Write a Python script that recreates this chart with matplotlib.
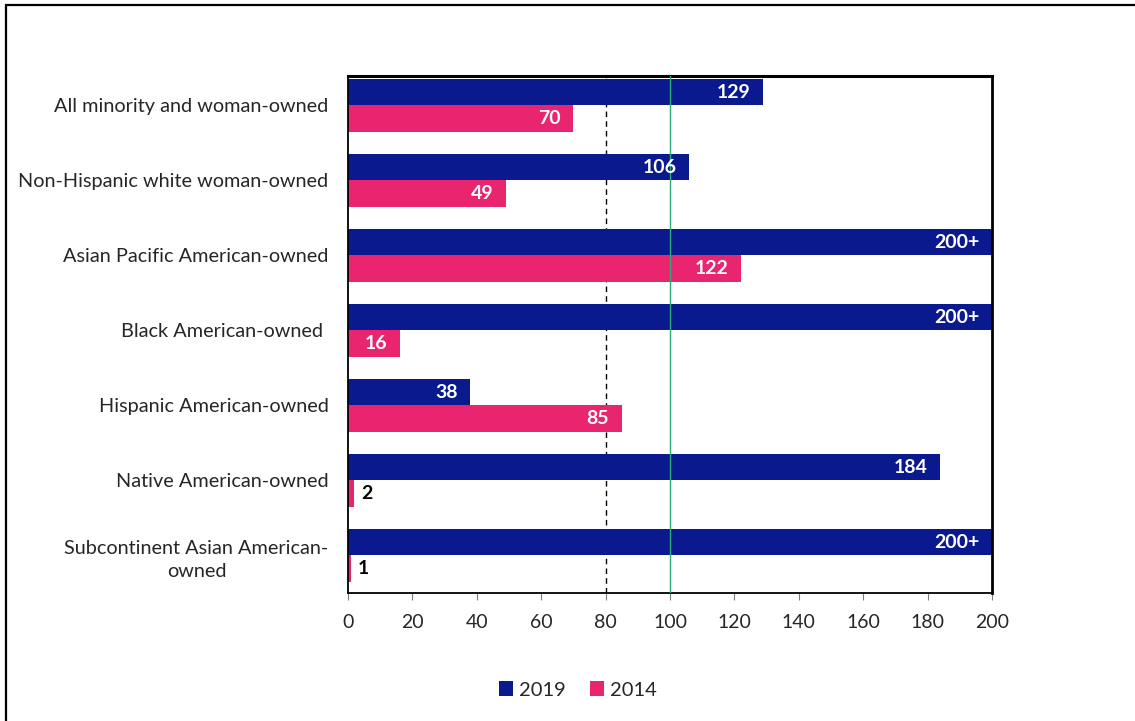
import matplotlib
matplotlib.use("Agg")
import matplotlib.pyplot as plt
from matplotlib.patches import Rectangle
import numpy as np

plt.rcParams['font.family'] = ['Lato', 'DejaVu Sans']

categories = [
    "All minority and woman-owned",
    "Non-Hispanic white woman-owned",
    "Asian Pacific American-owned",
    "Black American-owned ",
    "Hispanic American-owned",
    "Native American-owned",
    "Subcontinent Asian American-\nowned",
]
values_2019 = [129, 106, 200, 200, 38, 184, 200]
values_2014 = [70, 49, 122, 16, 85, 2, 1]
labels_2019 = ["129", "106", "200+", "200+", "38", "184", "200+"]
labels_2014 = ["70", "49", "122", "16", "85", "2", "1"]
x_ticks = [0, 20, 40, 60, 80, 100, 120, 140, 160, 180, 200]

navy = "#0A1A8E"
pink = "#E8256E"

fig = plt.figure(figsize=(11.35, 7.21), dpi=100)
ax = fig.add_axes([348 / 1135, 1 - 593 / 721, (992 - 348) / 1135, (593 - 76) / 721])

# outer chart border
fig.patches.append(Rectangle((6 / 1135, -0.05), 1.2, 1 - 5 / 721 + 0.05,
                             transform=fig.transFigure, fill=False,
                             edgecolor="black", linewidth=1.6, zorder=0))

y = np.arange(len(categories))
h = 0.35
ax.axvline(80, color="black", linestyle=(0, (4, 3)), linewidth=1.0, zorder=1)
b19 = ax.barh(y - h / 2, values_2019, height=h, color=navy, label="2019", zorder=2)
b14 = ax.barh(y + h / 2, values_2014, height=h, color=pink, label="2014", zorder=2)
ax.axvline(100, color="#2EAA78", linewidth=1.0, zorder=3)

for bars, labs in ((b19, labels_2019), (b14, labels_2014)):
    for bar, lab in zip(bars, labs):
        w = bar.get_width()
        yc = bar.get_y() + bar.get_height() / 2
        if w >= 10:
            ax.annotate(lab, (w, yc), xytext=(-9, 0), textcoords="offset points",
                        ha="right", va="center", color="white",
                        fontsize=14, fontweight="bold", zorder=4)
        else:
            ax.annotate(lab, (w, yc), xytext=(5, 0), textcoords="offset points",
                        ha="left", va="center", color="black",
                        fontsize=14, fontweight="bold", zorder=4)

ax.set_xlim(0, 200)
ax.set_ylim(6.5, -0.39)
ax.set_xticks(x_ticks)
ax.set_xticklabels([str(t) for t in x_ticks], fontsize=14, color="#262626")
ax.set_yticks(y)
ax.set_yticklabels(categories, fontsize=14.3, color="#262626")
for t in ax.get_yticklabels():
    t.set_multialignment("center")
    t.set_linespacing(1.45)
ax.tick_params(axis="y", length=0, pad=14)
ax.tick_params(axis="x", length=5, color="#7f7f7f", pad=10)

for s in ("left", "bottom"):
    ax.spines[s].set_linewidth(1.3)
ax.spines["top"].set_linewidth(2.2)
ax.spines["right"].set_linewidth(2.0)
for s in ax.spines.values():
    s.set_color("black")

fig.legend(handles=[b19, b14], labels=["2019", "2014"], loc="center",
           bbox_to_anchor=(578 / 1135, 1 - 690 / 721), ncol=2, frameon=False,
           fontsize=14.5, handlelength=0.7, handleheight=0.7, handletextpad=0.3,
           columnspacing=1.2, labelcolor="#262626")

fig.savefig("out.png", dpi=100)
